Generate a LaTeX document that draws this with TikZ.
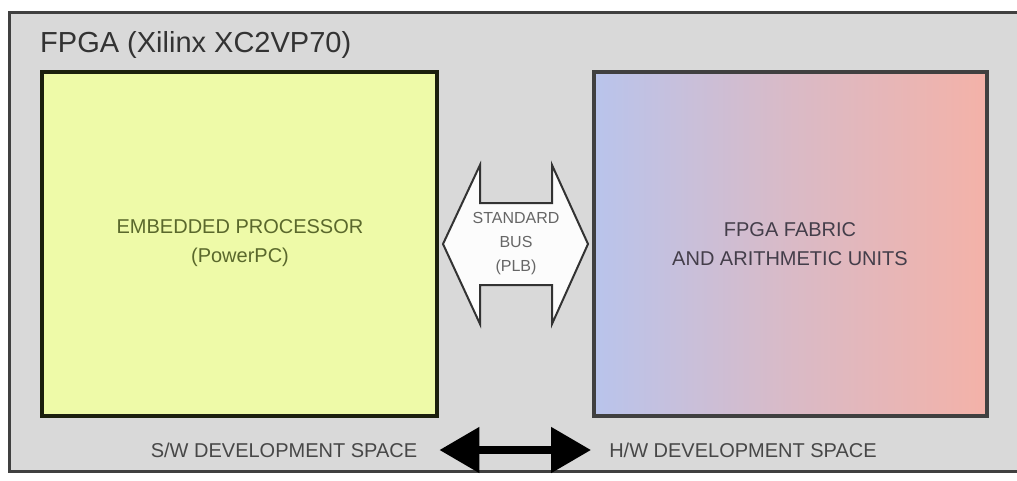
\documentclass[tikz,border=0pt]{standalone}
\usepackage{fontspec}
\setmainfont{Liberation Sans}
\usetikzlibrary{arrows.meta}

\definecolor{chipgray}{HTML}{D9D9D9}
\definecolor{cpufill}{HTML}{EEFAA8}
\definecolor{cputext}{HTML}{5A682C}
\definecolor{fableft}{HTML}{B9C4EC}
\definecolor{fabright}{HTML}{F4B2A8}
\definecolor{fabtext}{HTML}{443E4A}

\tikzset{
  unitbox/.style={draw=#1,line width=3.5pt},
  boxlabel/.style={align=center,font=\fontsize{20}{29}\selectfont},
  spacelabel/.style={font=\fontsize{20}{24}\selectfont,text=black!72,inner sep=0pt},
}

\begin{document}
\begin{tikzpicture}[x=1pt,y=-1pt]
  \useasboundingbox (0,0) rectangle (1017,480);
  \fill[white] (0,0) rectangle (1017,480);
  \draw[fill=chipgray,draw=black!75,line width=3pt] (9,12) rectangle (1022,471);
  \node[anchor=base west,inner sep=0pt,text=black!80,font=\fontsize{29}{32}\selectfont] (chip) at (40,52) {FPGA (Xilinx XC2VP70)};

  \draw[unitbox=black!70!cputext,fill=cpufill] (42,72) rectangle (437,416);
  \node[boxlabel,text=cputext] (cpu) at (240,243) {EMBEDDED PROCESSOR\\(PowerPC)};

  \shade[left color=fableft,right color=fabright,middle color=fableft!45!fabright] (594,72) rectangle (987,416);
  \draw[unitbox=black!75] (594,72) rectangle (987,416);
  \node[boxlabel,text=fabtext] (fabric) at (790,244) {FPGA FABRIC\\AND ARITHMETIC UNITS};

  \draw[black!80,line width=2pt,fill=white!92!chipgray,line join=miter]
    (443,244) -- (480,165) -- (480,203) -- (552,203) -- (552,165) -- (588,244)
    -- (552,324) -- (552,285) -- (480,285) -- (480,324) -- cycle;
  \node[align=center,text=black!60,font=\fontsize{16}{24}\selectfont] (bus) at (516,244) {STANDARD\\BUS\\(PLB)};

  \node[spacelabel] (sw) at (284,450) {S/W DEVELOPMENT SPACE};
  \node[spacelabel] (hw) at (743,450) {H/W DEVELOPMENT SPACE};
  \draw[{Triangle[length=40pt,width=44pt]}-{Triangle[length=40pt,width=44pt]},line width=8pt,shorten <=22pt,shorten >=18pt] (sw.east) -- (hw.west);
\end{tikzpicture}
\end{document}
